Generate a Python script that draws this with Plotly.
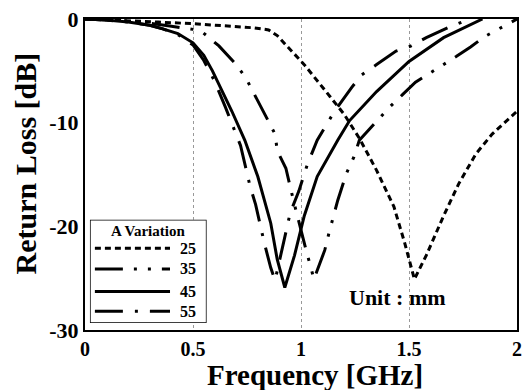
import plotly.graph_objects as go

# ---------------- data ----------------
f25 = [0, 0.2, 0.34, 0.5, 0.65, 0.78, 0.85, 0.89, 0.93, 1.015, 1.135, 1.20, 1.27, 1.35, 1.43, 1.48, 1.525,
       1.58, 1.66, 1.73, 1.81, 1.885, 2.0]
rl25 = [0, -0.15, -0.3, -0.45, -0.65, -0.85, -1.05, -1.6, -2.5, -4.4, -7.5, -9.2, -11.5, -14.6, -18.1, -21.6, -25.1,
        -22.8, -19.0, -15.9, -13.0, -11.1, -8.9]

f35 = [0, 0.1, 0.2, 0.3, 0.4, 0.5, 0.54, 0.62, 0.70, 0.745, 0.785, 0.825, 0.88, 0.89, 0.93, 0.965, 1.0, 1.02, 1.06,
       1.11, 1.13, 1.17, 1.21, 1.245, 1.27, 1.36, 1.41, 1.47, 1.53, 1.72, 1.785, 1.85, 1.945, 2.0]
rl35 = [0, -0.05, -0.2, -0.4, -0.7, -1.0, -1.2, -2.6, -4.4, -5.7, -7.3, -8.9, -11.1, -12.7, -14.4, -17.5, -20.5, -22.0, -25.1,
        -22.3, -20.6, -17.5, -14.9, -13.3, -11.7, -9.6, -8.5, -7.3, -6.1, -3.6, -2.7, -1.7, -0.6, 0]

f45 = [0, 0.1, 0.2, 0.3, 0.36, 0.43, 0.5, 0.55, 0.59, 0.68, 0.74, 0.80, 0.86, 0.89, 0.925, 0.97, 1.015, 1.075,
       1.17, 1.225, 1.35, 1.5, 1.66, 1.81, 1.84]
rl45 = [0, -0.1, -0.3, -0.6, -0.95, -1.4, -2.3, -3.5, -5.0, -8.9, -11.7, -15.2, -19.7, -23.2, -25.9, -22.8, -19.0, -15.2,
        -11.7, -9.8, -7.0, -4.1, -1.8, -0.3, 0]

f55 = [0, 0.1, 0.2, 0.3, 0.36, 0.43, 0.5, 0.55, 0.6, 0.65, 0.72, 0.765, 0.79, 0.83, 0.86, 0.88, 0.92, 0.95, 0.99,
       1.03, 1.075, 1.155, 1.235, 1.28, 1.35, 1.44, 1.51, 1.58, 1.685, 1.78]
rl55 = [0, -0.1, -0.3, -0.6, -0.95, -1.5, -2.5, -4.0, -6.0, -8.5, -12.2, -16.2, -17.9, -21.6, -24.0, -25.2, -21.5, -18.7, -16.6,
        -14.0, -11.7, -8.9, -6.6, -5.4, -4.4, -3.1, -2.6, -1.8, -0.8, 0]

series_names = ["25", "35", "45", "55"]
x_ticks = [0, 0.5, 1, 1.5, 2]
x_ticklabels = ["0", "0.5", "1", "1.5", "2"]
y_ticks = [0, -10, -20, -30]
y_ticklabels = ["0", "-10", "-20", "-30"]

# ---------------- style ----------------
FONT = "Liberation Serif"
dashes = {"25": "6px,4px",
          "35": "28px,11px,3px,11px,3px,11px",
          "45": "solid",
          "55": "28px,12px,3px,12px"}
data = {"25": (f25, rl25), "35": (f35, rl35), "45": (f45, rl45), "55": (f55, rl55)}

fig = go.Figure()
for name in series_names:
    fx, fy = data[name]
    fig.add_trace(go.Scatter(x=fx, y=fy, mode="lines", name=name, showlegend=False,
                             line=dict(color="black", width=3, dash=dashes[name])))

# ---------------- manual legend (overlay axes in pixel-like units) ----------------
row_y = {"25": 247, "35": 268, "45": 291, "55": 311}
for name in series_names:
    fig.add_trace(go.Scatter(x=[95, 171], y=[row_y[name]] * 2, mode="lines", xaxis="x2", yaxis="y2",
                             showlegend=False, hoverinfo="skip",
                             line=dict(color="black", width=3, dash=dashes[name])))

fig.add_shape(type="rect", xref="x2", yref="y2", x0=90, x1=208, y0=218, y1=323,
              line=dict(color="black", width=1.5), fillcolor="white", layer="between")
fig.add_annotation(xref="x2", yref="y2", x=149, y=229, text="<b>A Variation</b>", showarrow=False,
                   font=dict(family=FONT, size=15, color="black"))
for name in series_names:
    fig.add_annotation(xref="x2", yref="y2", x=189, y=row_y[name], text="<b>%s</b>" % name, showarrow=False,
                       font=dict(family=FONT, size=16, color="black"))

fig.add_annotation(xref="paper", yref="paper", x=0.84, y=0.057, text="<b>Unit : mm</b>", showarrow=False,
                   font=dict(family=FONT, size=22, color="black"))

W, H = 529, 390
L, R, T, B = 85, 7, 14, 60
pw, ph = W - L - R, H - T - B

# axis titles as annotations
fig.add_annotation(xref="paper", yref="paper", x=0.532, y=(H - B - 376) / ph, text="<b>Frequency [GHz]</b>",
                   showarrow=False, yanchor="middle", font=dict(family=FONT, size=29, color="black"))
fig.add_annotation(xref="paper", yref="paper", x=-0.137, y=0.535, text="<b>Return Loss [dB]</b>",
                   showarrow=False, textangle=-90, xanchor="center", yanchor="middle",
                   font=dict(family=FONT, size=30, color="black"))

fig.update_layout(
    width=W, height=H, margin=dict(l=L, r=R, t=T, b=B),
    paper_bgcolor="white", plot_bgcolor="white",
    xaxis=dict(range=[0, 2], tickvals=x_ticks, ticktext=x_ticklabels, showgrid=True,
               gridcolor="#999999", griddash="dot", gridwidth=1, zeroline=False,
               showline=True, linecolor="black", linewidth=2, mirror=True, ticks="", ticklen=0,
               tickfont=dict(family=FONT, size=20, color="black", weight="bold")),
    yaxis=dict(range=[-30, 0], tickvals=y_ticks, ticktext=y_ticklabels, showgrid=False, zeroline=False,
               showline=True, linecolor="black", linewidth=2, mirror=True, ticks="", ticklen=0,
               tickfont=dict(family=FONT, size=22, color="black", weight="bold")),
    xaxis2=dict(domain=[(90 - L) / pw, (208 - L) / pw], range=[90, 208], anchor="y2", visible=False,
                fixedrange=True),
    yaxis2=dict(domain=[(H - B - 323) / ph, (H - B - 218) / ph], range=[323, 218], anchor="x2",
                visible=False, fixedrange=True),
    showlegend=False,
)

fig.write_html("out.html")
